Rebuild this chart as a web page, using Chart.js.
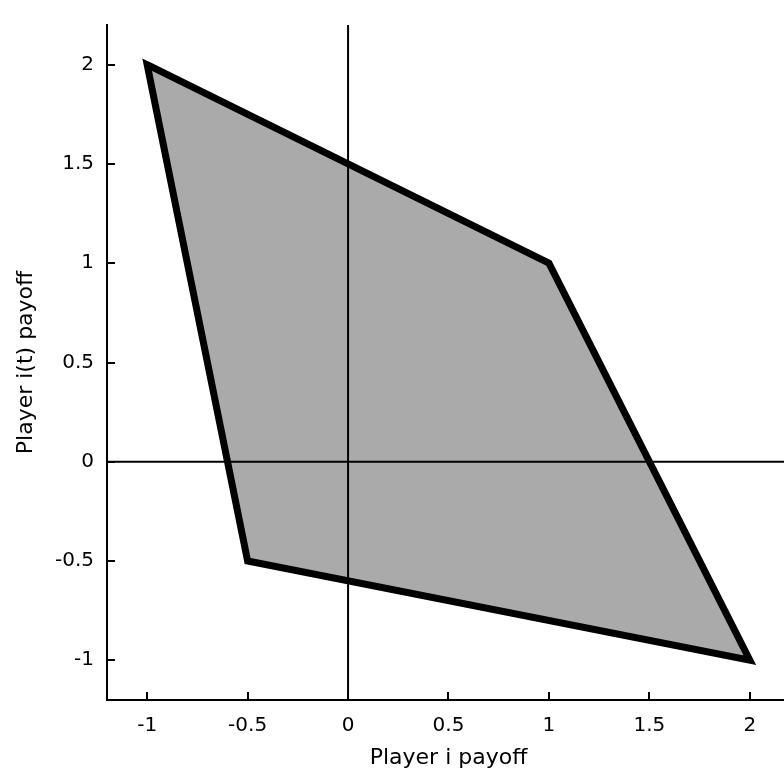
<!DOCTYPE html>
<html>
<head>
<meta charset="utf-8">
<script src="https://cdn.jsdelivr.net/npm/chart.js@4/dist/chart.umd.min.js"></script>
<style>
  html, body { margin: 0; padding: 0; background: #fff; overflow: hidden; }
  canvas { display: block; }
</style>
</head>
<body>
<canvas id="myChart" width="790" height="779" style="width:790px;height:779px"></canvas>
<script>
const ctx = document.getElementById('myChart')

// payoff polygon corners (closed)
const cornerX = [-1, 1, 2, -0.5, -1]
const cornerY = [2, 1, -1, -0.5, 2]

// axis cross lines
const hLineX = [-1.2, 2.2]
const hLineY = [0, 0]
const vLineX = [0, 0]
const vLineY = [-1.2, 2.2]

const xTicks = [-1, -0.5, 0, 0.5, 1, 1.5, 2]
const yTicks = [-1, -0.5, 0, 0.5, 1, 1.5, 2]

const toPoints = (xs, ys) => xs.map((x, i) => ({ x: x, y: ys[i] }))

// outline runs one edge past the start so the first corner gets a proper join
const outline = toPoints(cornerX.concat(cornerX[1]), cornerY.concat(cornerY[1]))

const FONT = "'DejaVu Sans', sans-serif"

// draw tick marks pointing into the plot, like the original
const innerTicks = {
    id: 'innerTicks',
    afterDraw(chart) {
        const c = chart.ctx
        const xs = chart.scales.x
        const ys = chart.scales.y
        c.save()
        c.strokeStyle = '#000'
        c.lineWidth = 2
        c.beginPath()
        xTicks.forEach(v => {
            const px = Math.round(xs.getPixelForValue(v))
            c.moveTo(px, xs.top)
            c.lineTo(px, xs.top - 8)
        })
        yTicks.forEach(v => {
            const py = Math.round(ys.getPixelForValue(v))
            c.moveTo(ys.right, py)
            c.lineTo(ys.right + 8, py)
        })
        c.stroke()
        c.restore()
    }
}

new Chart(ctx, {
    type: 'scatter',
    data: {
        datasets: [
            {
                data: toPoints(cornerX, cornerY),
                showLine: true,
                fill: 'shape',
                backgroundColor: '#aaaaaa',
                borderWidth: 0,
                pointRadius: 0,
                order: 3
            },
            {
                data: toPoints(hLineX, hLineY),
                showLine: true,
                borderColor: '#000',
                borderWidth: 2,
                pointRadius: 0,
                order: 2
            },
            {
                data: toPoints(vLineX, vLineY),
                showLine: true,
                borderColor: '#000',
                borderWidth: 2,
                pointRadius: 0,
                order: 2
            },
            {
                data: outline,
                showLine: true,
                fill: false,
                borderColor: '#000',
                borderWidth: 7,
                borderJoinStyle: 'miter',
                pointRadius: 0,
                order: 1
            }
        ]
    },
    options: {
        responsive: false,
        animation: false,
        layout: { padding: { top: 12, left: 0, right: 0, bottom: 0 } },
        plugins: {
            legend: { display: false },
            tooltip: { enabled: false }
        },
        scales: {
            x: {
                type: 'linear',
                min: -1.2,
                max: 2.2,
                afterBuildTicks: axis => { axis.ticks = xTicks.map(v => ({ value: v })) },
                afterFit: scale => { scale.height = 79 },
                grid: { display: false, drawTicks: false },
                border: { display: true, color: '#000', width: 2 },
                ticks: {
                    color: '#000',
                    padding: 14,
                    font: { family: FONT, size: 20 },
                    callback: v => String(v)
                },
                title: {
                    display: true,
                    text: 'Player i payoff',
                    color: '#000',
                    font: { family: FONT, size: 22 },
                    padding: { top: 0, bottom: 8 }
                }
            },
            y: {
                type: 'linear',
                min: -1.2,
                max: 2.2,
                afterBuildTicks: axis => { axis.ticks = yTicks.map(v => ({ value: v })) },
                afterFit: scale => { scale.width = 107 },
                grid: { display: false, drawTicks: false },
                border: { display: true, color: '#000', width: 2 },
                ticks: {
                    color: '#000',
                    padding: 13,
                    font: { family: FONT, size: 20 },
                    callback: v => String(v)
                },
                title: {
                    display: true,
                    text: 'Player i(t) payoff',
                    color: '#000',
                    font: { family: FONT, size: 22 },
                    padding: { top: 13, bottom: 0 }
                }
            }
        }
    },
    plugins: [innerTicks]
})
</script>
</body>
</html>
